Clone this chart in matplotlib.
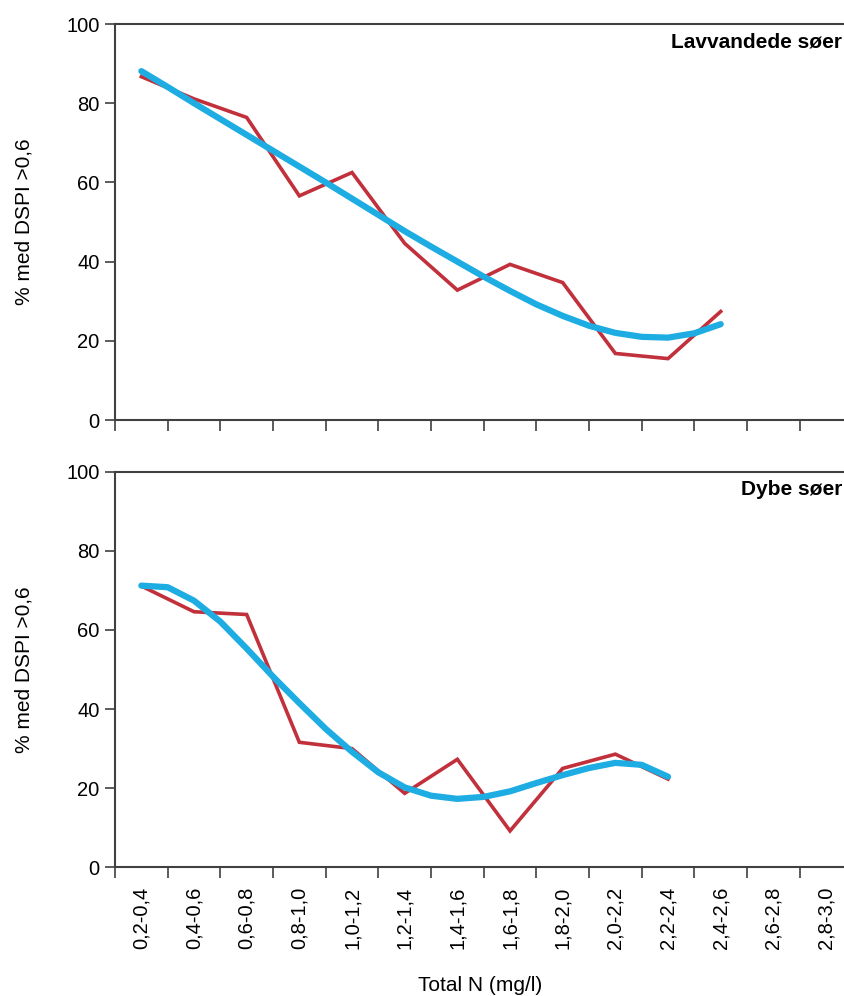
import numpy as np
import matplotlib.pyplot as plt
from matplotlib.ticker import FixedLocator, NullFormatter, FixedFormatter

plt.rcParams['font.family'] = ['Liberation Sans', 'DejaVu Sans']

# kategorier (Total N, mg/l)
kategorier = ['0,2-0,4', '0,4-0,6', '0,6-0,8', '0,8-1,0', '1,0-1,2', '1,2-1,4', '1,4-1,6',
              '1,6-1,8', '1,8-2,0', '2,0-2,2', '2,2-2,4', '2,4-2,6', '2,6-2,8', '2,8-3,0']

# observerede værdier (rød)
lav_obs = [86.7, 81.1, 76.4, 56.6, 62.5, 44.6, 32.8, 39.3, 34.7, 16.8, 15.5, 27.4]
dyb_obs = [71.1, 64.6, 63.9, 31.6, 30.0, 18.7, 27.3, 9.2, 25.0, 28.6, 22.3]

# tendenslinje (blå), aflæst for hver halve kategori
lav_trend = [88.1, 84.1, 80.0, 76.0, 72.0, 68.0, 64.0, 60.0, 55.9, 51.8, 47.7, 43.8,
             40.0, 36.2, 32.6, 29.2, 26.3, 23.8, 22.0, 21.0, 20.8, 21.9, 24.2]
dyb_trend = [71.2, 70.8, 67.4, 62.1, 55.3, 48.2, 41.5, 35.0, 29.2, 24.0, 20.2, 18.1,
             17.3, 17.8, 19.2, 21.3, 23.3, 25.1, 26.4, 25.9, 22.9]

paneler = [('Lavvandede søer', lav_obs, lav_trend), ('Dybe søer', dyb_obs, dyb_trend)]

rod = '#C1303B'
blaa = '#1DADE2'
graa = '#404040'

fig = plt.figure(figsize=(8.44, 9.96), dpi=100)
left = 115 / 844
width = (115 + 14 * 52.67) / 844 - left
ax_top = fig.add_axes([left, 1 - 420 / 996, width, 396 / 996])
ax_bot = fig.add_axes([left, 1 - 867.3 / 996, width, 395.6 / 996])

for ax, (titel, obs, trend) in zip([ax_top, ax_bot], paneler):
    x_obs = np.arange(len(obs)) + 0.5
    x_trend = np.arange(len(trend)) * 0.5 + 0.5
    ax.plot(x_obs, obs, color=rod, lw=2.6, solid_joinstyle='miter', zorder=2)
    ax.plot(x_trend, trend, color=blaa, lw=4.5, solid_capstyle='round',
            solid_joinstyle='round', zorder=3)

    ax.set_xlim(0, 14)
    ax.set_ylim(0, 100)
    ax.set_yticks([0, 20, 40, 60, 80, 100])
    ax.xaxis.set_major_locator(FixedLocator(np.arange(0, 15)))
    ax.xaxis.set_major_formatter(NullFormatter())
    ax.xaxis.set_minor_locator(FixedLocator(np.arange(14) + 0.5))
    ax.tick_params(axis='y', which='major', direction='out', length=7, width=1.2,
                   color=graa, labelsize=14.5, pad=4)
    ax.tick_params(axis='x', which='major', direction='out', length=8, width=1.2, color=graa)
    ax.tick_params(axis='x', which='minor', length=0)
    for s in ['left', 'bottom', 'top']:
        ax.spines[s].set_color(graa)
        ax.spines[s].set_linewidth(1.5)
    ax.spines['right'].set_visible(False)
    ax.set_ylabel('% med DSPI >0,6', fontsize=15)
    ax.yaxis.set_label_coords(-(115 - 33) / (852.4 - 115), 0.5)
    ax.text(1 - (852.4 - 842) / (852.4 - 115), 0.955, titel, transform=ax.transAxes,
            ha='right', va='center', fontsize=15, fontweight='bold')

ax_top.xaxis.set_minor_formatter(NullFormatter())
ax_bot.xaxis.set_minor_formatter(FixedFormatter(kategorier))
ax_bot.tick_params(axis='x', which='minor', labelsize=14.5, labelrotation=90, pad=14)
fig.text(480 / 844, 1 - 985 / 996, 'Total N (mg/l)', ha='center', va='center', fontsize=15)

fig.savefig('out.png', dpi=100)
